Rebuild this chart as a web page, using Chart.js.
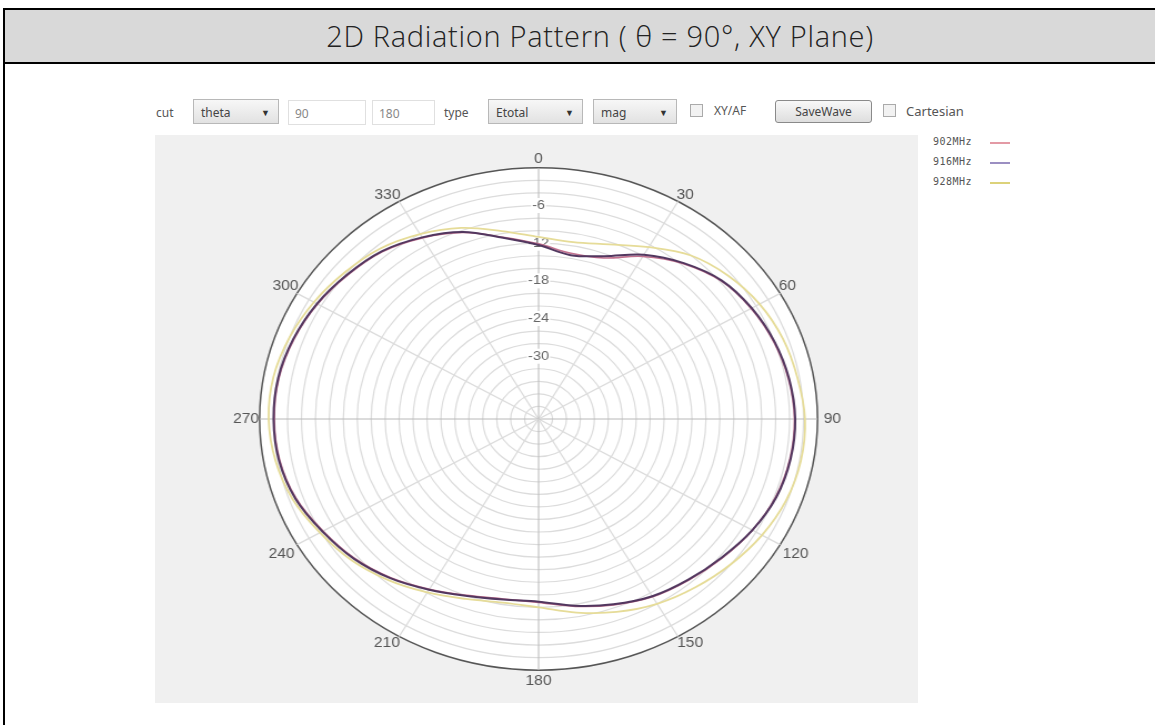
<!DOCTYPE html>
<html>
<head>
<meta charset="utf-8">
<script src="https://cdn.jsdelivr.net/npm/chart.js@4.4.0/dist/chart.umd.min.js"></script>
<style>
  body { margin: 0; width: 1155px; height: 725px; overflow: hidden; background: #fff; font-family: "Noto Sans", sans-serif; }
  #frame { position: absolute; left: 3px; top: 8px; width: 1190px; height: 740px; border-left: 2px solid #000; border-top: 2px solid #000; }
  #head { height: 52px; background: #d9d9d9; border-bottom: 2px solid #000; text-align: center; font: 300 29px "Open Sans"; letter-spacing: 0.7px; line-height: 52px; color: #222; }
  #panel { position: absolute; left: 155px; top: 135px; width: 763px; height: 568px; background: #f0f0f0; }
  .txt { position: absolute; font-size: 12px; color: #555; line-height: 14px; }
  .sel { position: absolute; height: 25px; border: 1px solid #b8b8b8; background: linear-gradient(#f7f7f7, #e2e2e2); font-size: 12px; color: #444; line-height: 25px; padding-left: 7px; box-sizing: border-box; }
  .sel span { position: absolute; right: 8px; top: 0; font-size: 9px; color: #333; }
  .inp { position: absolute; height: 25px; border: 1px solid #e0e0e0; background: #fff; font-size: 12px; color: #888; line-height: 25px; padding-left: 6px; box-sizing: border-box; }
  .chk { position: absolute; width: 13px; height: 13px; border: 1px solid #aaa; background: #f2f2f2; box-sizing: border-box; }
  .btn { position: absolute; height: 23px; border: 1px solid #8a8a8a; border-radius: 3px; background: linear-gradient(#f8f8f8, #dedede); font-size: 12px; color: #444; text-align: center; line-height: 21px; box-sizing: border-box; }
  .leg { position: absolute; left: 933px; font: 10px "DejaVu Sans Mono"; color: #555; line-height: 12px; letter-spacing: 0.5px; }
  .leg i { position: absolute; left: 57px; top: 6px; width: 20px; height: 1.5px; }
  #wrap { position: absolute; left: 232px; top: 124px; width: 550px; height: 590px; transform: scaleX(1.1107); transform-origin: 0 0; }
</style>
</head>
<body>
<div id="frame"><div id="head">2D Radiation Pattern ( θ = 90°, XY Plane)</div></div>
<div id="panel"></div>

<div class="txt" style="left:156px;top:106px;">cut</div>
<div class="sel" style="left:193px;top:99px;width:86px;">theta<span>▼</span></div>
<div class="inp" style="left:288px;top:100px;width:78px;">90</div>
<div class="inp" style="left:372px;top:100px;width:63px;">180</div>
<div class="txt" style="left:444px;top:106px;">type</div>
<div class="sel" style="left:488px;top:99px;width:95px;">Etotal<span>▼</span></div>
<div class="sel" style="left:593px;top:99px;width:84px;">mag<span>▼</span></div>
<div class="chk" style="left:690px;top:104px;"></div>
<div class="txt" style="left:714px;top:104px;">XY/AF</div>
<div class="btn" style="left:775px;top:100px;width:97px;">SaveWave</div>
<div class="chk" style="left:883px;top:104px;"></div>
<div class="txt" style="left:906px;top:104px;font-size:13px;">Cartesian</div>

<div class="leg" style="top:136px;">902MHz<i style="background:#e39aa5"></i></div>
<div class="leg" style="top:156px;">916MHz<i style="background:#9b8fc2"></i></div>
<div class="leg" style="top:176px;">928MHz<i style="background:#dcd27a"></i></div>

<div id="wrap"><canvas id="polar" width="550" height="590"></canvas></div>

<script>
// azimuth angles (deg), one sample every 10 degrees
var angleLabels = ['0','10','20','30','40','50','60','70','80','90','100','110',
                   '120','130','140','150','160','170','180','190','200','210','220','230',
                   '240','250','260','270','280','290','300','310','320','330','340','350'];

// Etotal magnitude (dB)
var f902 = [-12.1,-13.2,-12.7,-10.1,-7.7,-5.8,-4.8,-4.1,-3.6,-3.3,-3.4,-3.8,
            -4.6,-5.6,-6.5,-7.3,-8.5,-9.7,-10.8,-10.9,-10.1,-8.7,-7.0,-5.5,
            -4.3,-3.0,-2.3,-2.1,-2.2,-2.7,-3.4,-4.3,-5.2,-6.7,-8.4,-10.6];
var f916 = [-12.3,-13.5,-12.4,-9.8,-7.6,-5.7,-4.7,-4.0,-3.5,-3.2,-3.3,-3.7,
            -4.6,-5.7,-6.6,-7.4,-8.6,-9.8,-10.9,-10.8,-10.0,-8.6,-6.9,-5.4,
            -4.2,-2.9,-2.2,-2.0,-2.1,-2.6,-3.3,-4.2,-5.1,-6.6,-8.3,-10.7];
var f928 = [-11.0,-11.4,-10.4,-8.4,-6.0,-4.5,-3.4,-2.7,-2.3,-1.8,-1.8,-2.2,
            -3.0,-4.0,-5.0,-6.0,-7.3,-8.7,-10.0,-10.3,-9.5,-8.1,-6.5,-5.0,
            -3.8,-2.5,-1.7,-1.3,-1.4,-2.0,-2.8,-3.7,-4.6,-6.0,-7.6,-9.6];

var rMin = -40, rMax = 0, rStep = 2;
var shownTicks = [-6, -12, -18, -24, -30];

// gap between the outer ring and each 30-degree label
var labelPad = [-7, -10, -9, -2, -5, -9, -5, -9, -5, -7, -9, -10];

var ctx = document.getElementById('polar');

var chart = new Chart(ctx, {
  type: 'radar',
  data: {
    labels: angleLabels,
    datasets: [
      { label: '902MHz', data: f902, borderColor: '#c2718f', borderWidth: 1.6, order: 1 },
      { label: '916MHz', data: f916, borderColor: '#52375f', borderWidth: 2, order: 0 },
      { label: '928MHz', data: f928, borderColor: '#e6dc98', borderWidth: 1.8, order: 2 }
    ]
  },
  options: {
    responsive: false,
    animation: false,
    layout: { padding: 0 },
    elements: {
      line: { fill: false, tension: 0.35 },
      point: { radius: 0, hoverRadius: 0 }
    },
    plugins: { legend: { display: false }, tooltip: { enabled: false } },
    scales: {
      r: {
        min: rMin,
        max: rMax,
        backgroundColor: '#ffffff',
        grid: {
          circular: true,
          color: function(c) { return c.tick && c.tick.value === rMax ? '#555555' : '#dcdcdc'; },
          lineWidth: function(c) { return c.tick && c.tick.value === rMax ? 1.5 : 1.2; }
        },
        angleLines: {
          color: function(c) {
            if (c.index % 9 === 0) return '#b8b8b8';
            return c.index % 3 === 0 ? '#dcdcdc' : 'rgba(0,0,0,0)';
          },
          lineWidth: function(c) { return c.index % 9 === 0 ? 1 : 1.3; }
        },
        ticks: {
          stepSize: rStep,
          color: '#666',
          font: { family: 'Liberation Sans', size: 13 },
          backdropPadding: 1,
          backdropColor: function(c) { return c.tick && c.tick.label ? '#ffffff' : 'rgba(0,0,0,0)'; },
          callback: function(v) { return shownTicks.indexOf(v) >= 0 ? String(v) : ''; }
        },
        pointLabels: {
          color: '#555',
          padding: function(c) { return c.index % 3 === 0 ? labelPad[c.index / 3] : 0; },
          font: { family: 'Liberation Sans', size: 14 },
          callback: function(label, i) { return i % 3 === 0 ? label : ''; }
        }
      }
    }
  }
});
</script>
</body>
</html>
